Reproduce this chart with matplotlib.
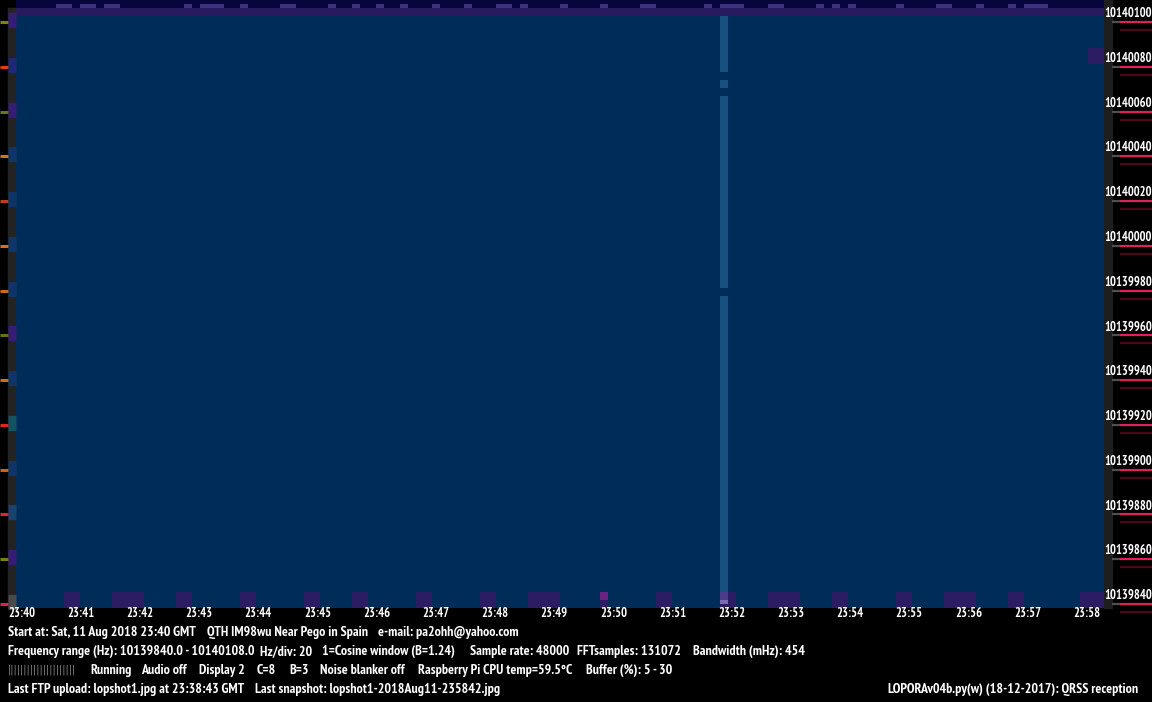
import numpy as np
import matplotlib.pyplot as plt
from matplotlib.colors import ListedColormap
from matplotlib.transforms import blended_transform_factory

# ---- data ----
time_minutes = [0, 1, 2, 3, 4, 5, 6, 7, 8, 9, 10, 11, 12, 13, 14, 15, 16, 17, 18]
time_labels = ['23:40', '23:41', '23:42', '23:43', '23:44', '23:45', '23:46', '23:47', '23:48',
               '23:49', '23:50', '23:51', '23:52', '23:53', '23:54', '23:55', '23:56', '23:57', '23:58']
freq_ticks = [10140100, 10140080, 10140060, 10140040, 10140020, 10140000, 10139980,
              10139960, 10139940, 10139920, 10139900, 10139880, 10139860, 10139840]
t_start, t_end = 0.135, 18.52          # minutes after 23:40 shown by the waterfall
f_top, f_bottom = 10140105.8, 10139834.2

# left level indicator colours, one per frequency line
level_colors = ['#7f8012', '#e23a12', '#66761a', '#d07424', '#b8401c', '#d0702a', '#c86a22',
                '#6c7014', '#c87022', '#e02420', '#c86420', '#e02434', '#7a7e14', '#e0204a']
side_colors = ['#3a1c8c', '#1f2a8a', '#3a1c8c', '#0b3a7a', '#0b3a7a', '#0b3a7a', '#0b3a7a',
               '#3a1c8c', '#0b3a7a', '#126070', '#0b3a7a', '#1a4a80', '#3a1c8c', '#555555']

# waterfall cells: 136 columns (8 px), 152 rows (4 px)
n_rows, n_cols = 152, 136
top_marks = [(5, 7), (8, 10), (11, 13), (21, 22), (23, 26), (28, 29), (33, 35), (39, 40),
             (42, 43), (45, 46), (48, 49), (52, 53), (56, 57), (60, 62), (63, 64), (68, 69),
             (73, 74), (78, 80), (86, 87), (88, 91), (94, 96), (100, 101), (102, 103),
             (104, 105), (110, 111), (115, 117), (120, 121), (124, 125), (126, 129)]
minute_blocks = [(6, 8), (12, 16), (20, 22), (28, 30), (36, 38), (42, 44), (50, 52), (58, 60),
                 (64, 68), (80, 82), (89, 90), (94, 98), (102, 104), (110, 112), (116, 120),
                 (124, 126), (133, 136)]
signal_col = 88
signal_gaps = [(18, 20), (22, 24), (72, 74)]
magenta_col = 73

palette = ['#07063c', '#3d307f', '#271a5e', '#002c5a', '#18507f',
           '#2b1c63', '#6a2283', '#4b3b8a', '#7a6cb2']
TOP, MARK, BAND, BLUE, SIG, BLOCK, MAG, LAV, LILAC = range(9)

grid = np.full((n_rows, n_cols), BLUE)
grid[0:2, :] = TOP
for a, b in top_marks:
    grid[1, a:b] = MARK
grid[2:4, :] = BAND
grid[4:148, signal_col] = SIG
for a, b in signal_gaps:
    grid[a:b, signal_col] = BLUE
grid[12:16, 134:136] = BLOCK
for a, b in minute_blocks:
    grid[148:152, a:b] = BLOCK
grid[148:150, magenta_col] = MAG
grid[150:152, magenta_col] = BLOCK
grid[148:150, signal_col] = LAV
grid[150, signal_col] = LILAC
grid[151, signal_col] = BLOCK

# ---- figure ----
fig = plt.figure(figsize=(11.52, 7.02), dpi=100, facecolor='black')
bg = fig.add_axes([0, 0, 1, 1])
bg.set_xlim(0, 1152)
bg.set_ylim(702, 0)
bg.axis('off')
bg.set_facecolor('black')

ax = fig.add_axes([16 / 1152, 94 / 702, 1088 / 1152, 608 / 702])
ax.imshow(grid, cmap=ListedColormap(palette), vmin=0, vmax=len(palette) - 1,
          extent=[t_start, t_end, f_bottom, f_top], aspect='auto',
          interpolation='nearest', origin='upper')
ax.set_xlim(t_start, t_end)
ax.set_ylim(f_bottom, f_top)
ax.axis('off')

font = dict(family=['PT Sans Narrow', 'DejaVu Sans'], weight='bold', fontsize=9)
font_status = dict(font, fontsize=10)

# side strips
bg.add_patch(plt.Rectangle((8, 8), 8, 600, color='#232323', zorder=0))
bg.add_patch(plt.Rectangle((1104, 0), 8, 608, color='#1e1e1e', zorder=0))

ty = blended_transform_factory(ax.transAxes, ax.transData)
px = 1 / 1088
hz = 1 / 2.2385
for f, lc, sc in zip(freq_ticks, level_colors, side_colors):
    ax.text(1.0, f - 4 * hz, str(f), transform=ty, color='white', ha='left', va='baseline',
            clip_on=False, **font)
    yl = f - 9 * hz
    ax.plot([1 + 16 * px, 1 + 48 * px], [yl, yl], transform=ty, color='#e0205a',
            lw=1.6, clip_on=False, solid_capstyle='butt')
    ax.plot([1 + 8 * px, 1 + 16 * px], [yl, yl], transform=ty, color='#505050',
            lw=1.6, clip_on=False, solid_capstyle='butt')
    ax.plot([1 + 16 * px, 1 + 48 * px], [yl - 8 * hz] * 2, transform=ty, color='#4a0818',
            lw=1.6, clip_on=False, solid_capstyle='butt')
    # left level indicator
    ax.plot([-16 * px, -8 * px], [yl, yl], transform=ty, color=lc, lw=2.2,
            clip_on=False, solid_capstyle='butt')
    ax.plot([-8 * px, 0], [yl + 2 * hz, yl + 2 * hz], transform=ty, color=sc, lw=11,
            alpha=0.8, clip_on=False, solid_capstyle='butt')

tx = blended_transform_factory(ax.transData, ax.transAxes)
for m, lab in zip(time_minutes, time_labels):
    ax.text(m, -9 / 608, lab, transform=tx, color='white', ha='left', va='baseline',
            clip_on=False, **font)

# status lines
lines = [
    (636, [(8, 'Start at: Sat, 11 Aug 2018 23:40 GMT'), (207, 'QTH IM98wu Near Pego in Spain'),
           (378, 'e-mail: pa2ohh@yahoo.com')]),
    (655, [(8, 'Frequency range (Hz): 10139840.0 - 10140108.0'), (260, 'Hz/div: 20'),
           (322, '1=Cosine window (B=1.24)'), (470, 'Sample rate: 48000'),
           (577, 'FFTsamples: 131072'), (693, 'Bandwidth (mHz): 454')]),
    (674, [(90, 'Running'), (141, 'Audio off'), (199, 'Display 2'), (257, 'C=8'),
           (289, 'B=3'), (320, 'Noise blanker off'), (418, 'Raspberry Pi CPU temp=59.5°C'),
           (586, 'Buffer (%): 5 - 30')]),
    (693, [(8, 'Last FTP upload: lopshot1.jpg at 23:38:43 GMT'),
           (255, 'Last snapshot: lopshot1-2018Aug11-235842.jpg')]),
]
for y, parts in lines:
    for x, s in parts:
        bg.text(x, y, s, color='white', ha='left', va='baseline', **font_status)
bg.text(8, 670, '|' * 21, color='#8a8a8a', ha='left', va='center',
        family='DejaVu Sans', fontsize=7)
bg.text(1138, 693, 'LOPORAv04b.py(w) (18-12-2017): QRSS reception', color='white',
        ha='right', va='baseline', **font_status)

fig.savefig('out.png', dpi=100, facecolor='black')
